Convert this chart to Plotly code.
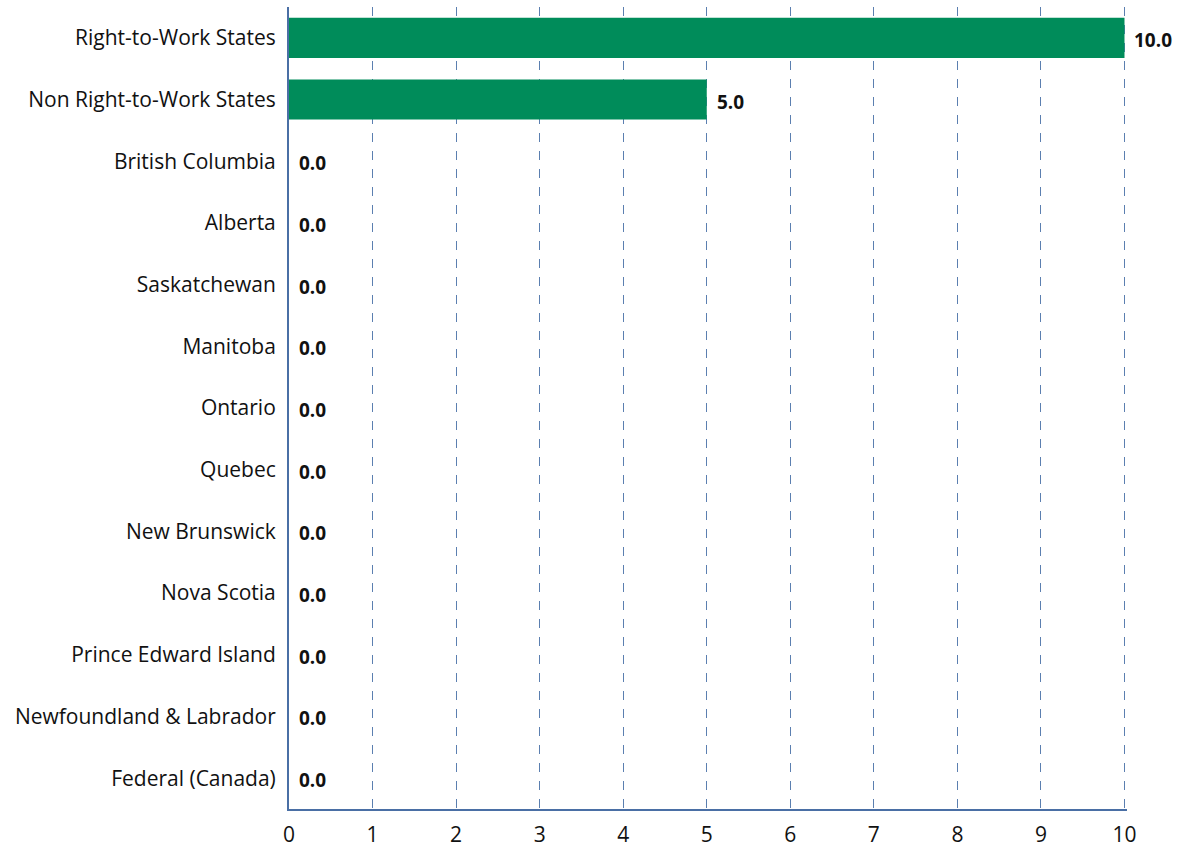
import plotly.graph_objects as go

categories = ["Right-to-Work States", "Non Right-to-Work States", "British Columbia", "Alberta",
              "Saskatchewan", "Manitoba", "Ontario", "Quebec", "New Brunswick", "Nova Scotia",
              "Prince Edward Island", "Newfoundland & Labrador", "Federal (Canada)"]
values = [10.0, 5.0, 0.0, 0.0, 0.0, 0.0, 0.0, 0.0, 0.0, 0.0, 0.0, 0.0, 0.0]
tick_vals = list(range(0, 11))

fig = go.Figure(go.Bar(
    x=values, y=categories, orientation="h",
    marker=dict(color="#008C5A", line=dict(width=0)),
    cliponaxis=False,
))

for v, c in zip(values, categories):
    fig.add_annotation(x=v, y=c, text=f"<b>{v:.1f}</b>", showarrow=False,
                       xanchor="left", xshift=8, yshift=-2,
                       font=dict(family="Open Sans", size=19, color="#111111"))

fig.update_layout(
    width=1181, height=850,
    margin=dict(l=289, r=54, t=7, b=41),
    plot_bgcolor="white", paper_bgcolor="white",
    bargap=0.35, showlegend=False,
    font=dict(family="Open Sans", size=21, color="#111111"),
    xaxis=dict(range=[0, 10.03], tickvals=tick_vals, showgrid=True, gridcolor="#5b7fb0",
               griddash="dash", gridwidth=1, showline=True, linecolor="#4a6fa5", linewidth=2,
               zeroline=False, ticks="", tickfont=dict(size=21), ticklabelstandoff=6,
               automargin=False),
    yaxis=dict(autorange="reversed", showline=True, linecolor="#4a6fa5", linewidth=2,
               ticks="", showgrid=False, ticklabelstandoff=7, tickfont=dict(size=21),
               automargin=False),
)

fig.write_html("out.html")
